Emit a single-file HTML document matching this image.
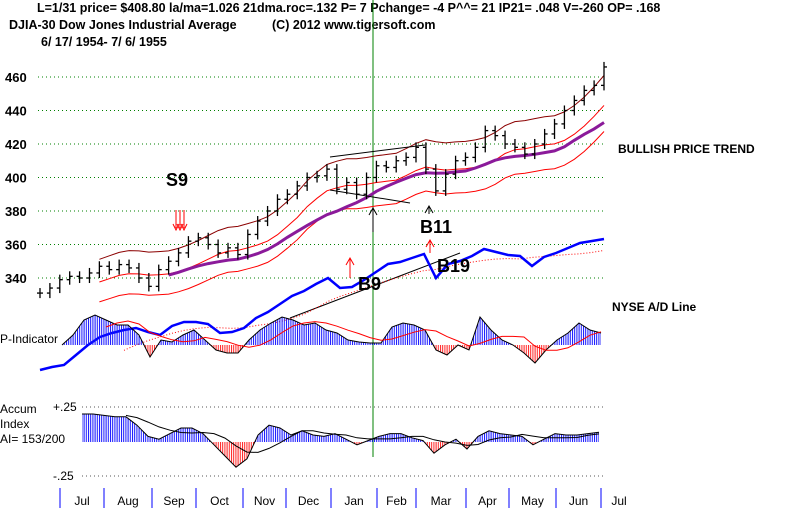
<!DOCTYPE html>
<html><head><meta charset="utf-8"><style>
html,body{margin:0;padding:0;background:#fff;}
svg{display:block;font-family:"Liberation Sans",Arial,sans-serif;}
.b{font-weight:bold;}
</style></head><body>
<svg id="c" width="800" height="508" viewBox="0 0 800 508" xmlns="http://www.w3.org/2000/svg">
<defs>
<pattern id="hb" width="2.2" height="4" patternUnits="userSpaceOnUse"><rect width="1" height="4" fill="#1010ff"/></pattern>
<pattern id="hr" width="2.2" height="4" patternUnits="userSpaceOnUse"><rect width="1" height="4" fill="#ff2020"/></pattern>
<clipPath id="pAbove"><rect x="0" y="0" width="800" height="345"/></clipPath>
<clipPath id="pBelow"><rect x="0" y="345" width="800" height="60"/></clipPath>
<clipPath id="aAbove"><rect x="0" y="380" width="800" height="62"/></clipPath>
<clipPath id="aBelow"><rect x="0" y="442" width="800" height="60"/></clipPath>
</defs>
<g class="b" font-size="12.5">
<text x="37" y="12">L=1/31   price= $408.80  la/ma=1.026 21dma.roc=.132 P=   7 Pchange= -4 P^^= 21 IP21= .048 V=-260 OP= .168</text>
<text x="9" y="29">DJIA-30  Dow Jones Industrial Average</text>
<text x="272" y="29">(C) 2012 www.tigersoft.com</text>
<text x="41" y="46">6/ 17/ 1954- 7/ 6/ 1955</text>
</g>
<g id="grid"></g>
<g id="marks"></g>
<g class="b">
<text x="166" y="186" font-size="18">S9</text>
<text x="358" y="290" font-size="18">B9</text>
<text x="420" y="233" font-size="18">B11</text>
<text x="437" y="272" font-size="18">B19</text>
<text x="618" y="153" font-size="12">BULLISH PRICE TREND</text>
<text x="612" y="311" font-size="12">NYSE A/D Line</text>
</g>
<g font-size="12">
<text x="0" y="343">P-Indicator</text>
<text x="0" y="413">Accum</text>
<text x="0" y="428">Index</text>
<text x="0" y="443">AI= 153/200</text>
<text x="53" y="411">+.25</text>
<text x="53" y="480">-.25</text>
</g>
</svg>
<script>
const priceVals=[331,334,339,341,340,343,347,345,348,346,340,335,345,350,355,362,364,360,355,358,354,366,374,380,387,390,395,400,401,405,393,397,390,400,407,406,410,412,418,405,392,402,410,412,418,428,425,420,418,414,420,426,432,440,446,452,455,466];
const priceTicks=[460,440,420,400,380,360,340];
const adVals=[10,13,15,25,35,43,47,50,52,48,45,54,58,58,56,47,48,52,62,68,76,84,89,96,102,92,93,100,108,116,118,122,126,102,116,119,124,131,128,125,124,114,123,127,132,137,139,141];
const pIndVals=[0,.10,.25,.30,.25,.20,.20,.10,-.12,.05,.03,.10,.15,.05,-.05,-.08,-.08,.05,.15,.22,.28,.25,.20,.22,.15,.12,.05,.03,.02,.02,.18,.22,.20,.15,-.05,-.10,0,-.05,.28,.15,.05,0,-.08,-.18,-.05,.05,.12,.22,.15,.12];
const accumVals=[.2,.2,.19,.18,.18,.12,.04,.02,.06,.1,.1,.06,-.02,-.1,-.18,-.12,.05,.12,.1,.05,.08,.05,.04,.06,.02,-.02,.01,.04,.06,.06,.03,.01,-.08,-.02,.02,-.05,.04,.08,.06,.05,.04,-.02,.02,.06,.05,.05,.06,.07];
const months=["Jul","Aug","Sep","Oct","Nov","Dec","Jan","Feb","Mar","Apr","May","Jun","Jul"];
const monthTickX=[60,104,152,196,243,286,331,377,416,466,509,556,601];

const NS="http://www.w3.org/2000/svg";
const grid=document.getElementById('grid'),marks=document.getElementById('marks');
function mk(tag,attrs,parent){const e=document.createElementNS(NS,tag);for(const k in attrs)e.setAttribute(k,attrs[k]);(parent||marks).appendChild(e);return e;}
const yP=v=>77+(460-v)*1.675;
const xP=i=>40+i*(564/(priceVals.length-1));
const xAD=i=>40+i*12, yAD=v=>380-v;
const xPI=i=>62+i*11, yPI=v=>345-v*100;
const xAC=i=>82+i*11, yAC=v=>442-v*140;
function ma(a,w){return a.map((_,i)=>{if(i<w-1)return null;let s=0;for(let j=i-w+1;j<=i;j++)s+=a[j];return s/w;});}
function pathOf(a,xf,yf){let d='';a.forEach((v,i)=>{if(v==null)return;d+=(d?'L':'M')+xf(i).toFixed(1)+','+yf(v).toFixed(1);});return d;}

priceTicks.forEach(t=>{
 const l=mk('line',{x1:38,x2:606,y1:yP(t),y2:yP(t),stroke:'#008000','stroke-dasharray':'1,3'},grid);
 
 
 const tx=mk('text',{x:5,y:yP(t)+5,'font-size':'13','font-weight':'bold'},grid);
 tx.textContent=t;
 
 
});
[407,476].forEach(y=>{const l=mk('line',{x1:82,x2:606,y1:y,y2:y,stroke:'#555','stroke-dasharray':'1,3'},grid);
 
 });

const vl=mk('line',{x1:373,x2:373,y1:0,y2:457,stroke:'#008000','stroke-width':1});



const c=ma(priceVals,7), m50=ma(priceVals,14);
const bands=[[c.map(v=>v&&v*1.035),'#8b0000',1,'upper-band'],[c.map(v=>v&&v*0.995),'#ff0000',1,'middle-band'],[c.map(v=>v&&v*0.96),'#ff0000',1,'lower-band'],[m50,'#8b1a9a',3,'moving-average-50']];
bands.forEach(b=>{const p=mk('path',{d:pathOf(b[0],xP,yP),fill:'none',stroke:b[1],'stroke-width':b[2]});
 
 });

priceVals.forEach((v,i)=>{
 const x=xP(i),prev=i?priceVals[i-1]:v;
 const hi=Math.max(v,prev)+3,lo=Math.min(v,prev)-3;
 const g=mk('g',{stroke:'#000','stroke-width':1.3});
 
 
 mk('line',{x1:x,x2:x,y1:yP(hi),y2:yP(lo)},g);
 mk('line',{x1:x-3,x2:x,y1:yP(prev),y2:yP(prev)},g);
 mk('line',{x1:x,x2:x+3,y1:yP(v),y2:yP(v)},g);
});
[[330,157,425,145],[330,190,410,203],[290,318,460,253]].forEach(t=>{const l=mk('line',{x1:t[0],y1:t[1],x2:t[2],y2:t[3],stroke:'#000','stroke-width':1});
 
 });

const adMa=ma(adVals,8);
const adm=mk('path',{d:pathOf(adMa,xAD,yAD),fill:'none',stroke:'#ff0000','stroke-dasharray':'1,2'});


const ad=mk('path',{d:pathOf(adVals,xAD,yAD),fill:'none',stroke:'#0000ff','stroke-width':2.5});



function osc(vals,xf,yf,base,above,below,maColor,name){
 let d='M'+xf(0)+','+base;vals.forEach((v,i)=>d+='L'+xf(i).toFixed(1)+','+yf(v).toFixed(1));d+='L'+xf(vals.length-1)+','+base+'Z';
 const a=mk('path',{d:d,fill:'url(#hb)','clip-path':'url(#'+above+')'});
 
 
 const b=mk('path',{d:d,fill:'url(#hr)','clip-path':'url(#'+below+')'});
 
 
 const o=mk('path',{d:pathOf(vals,xf,yf),fill:'none',stroke:'#000'});
 
 
 const m=mk('path',{d:pathOf(ma(vals,5),xf,yf),fill:'none',stroke:maColor});
 
 
}
osc(pIndVals,xPI,yPI,345,'pAbove','pBelow','#ff0000','p-indicator');
osc(accumVals,xAC,yAC,442,'aAbove','aBelow','#000','accum-index');

function arrow(x,y1,y2,col,name){const g=mk('g',{stroke:col,fill:'none'});
 
 
 mk('line',{x1:x,x2:x,y1:y1,y2:y2},g);
 const dir=y2<y1?1:-1;
 mk('path',{d:`M${x-4},${y2+dir*7}L${x},${y2}L${x+4},${y2+dir*7}`},g);}
arrow(373,232,208,'#000','b9-arrow');
arrow(350,278,258,'#ff0000','b9-red-arrow');
arrow(430,253,240,'#ff0000','b19-arrow');
arrow(429,214,206,'#000','b11-arrow');
[176,180,184].forEach(x=>{const l=mk('path',{d:`M${x},210L${x},228M${x-3},224L${x},230L${x+3},224`,stroke:'#ff0000',fill:'none'});
 
 });

months.forEach((m,i)=>{
 const x=monthTickX[i];
 const t=mk('line',{x1:x,x2:x,y1:488,y2:508,stroke:'#0000ff'});
 
 
 const next=i<months.length-1?monthTickX[i+1]:x+36;
 const tx=mk('text',{x:(x+next)/2,y:505,'font-size':'12','text-anchor':'middle'});
 tx.textContent=m;
 
 
});
</script>
</body></html>
